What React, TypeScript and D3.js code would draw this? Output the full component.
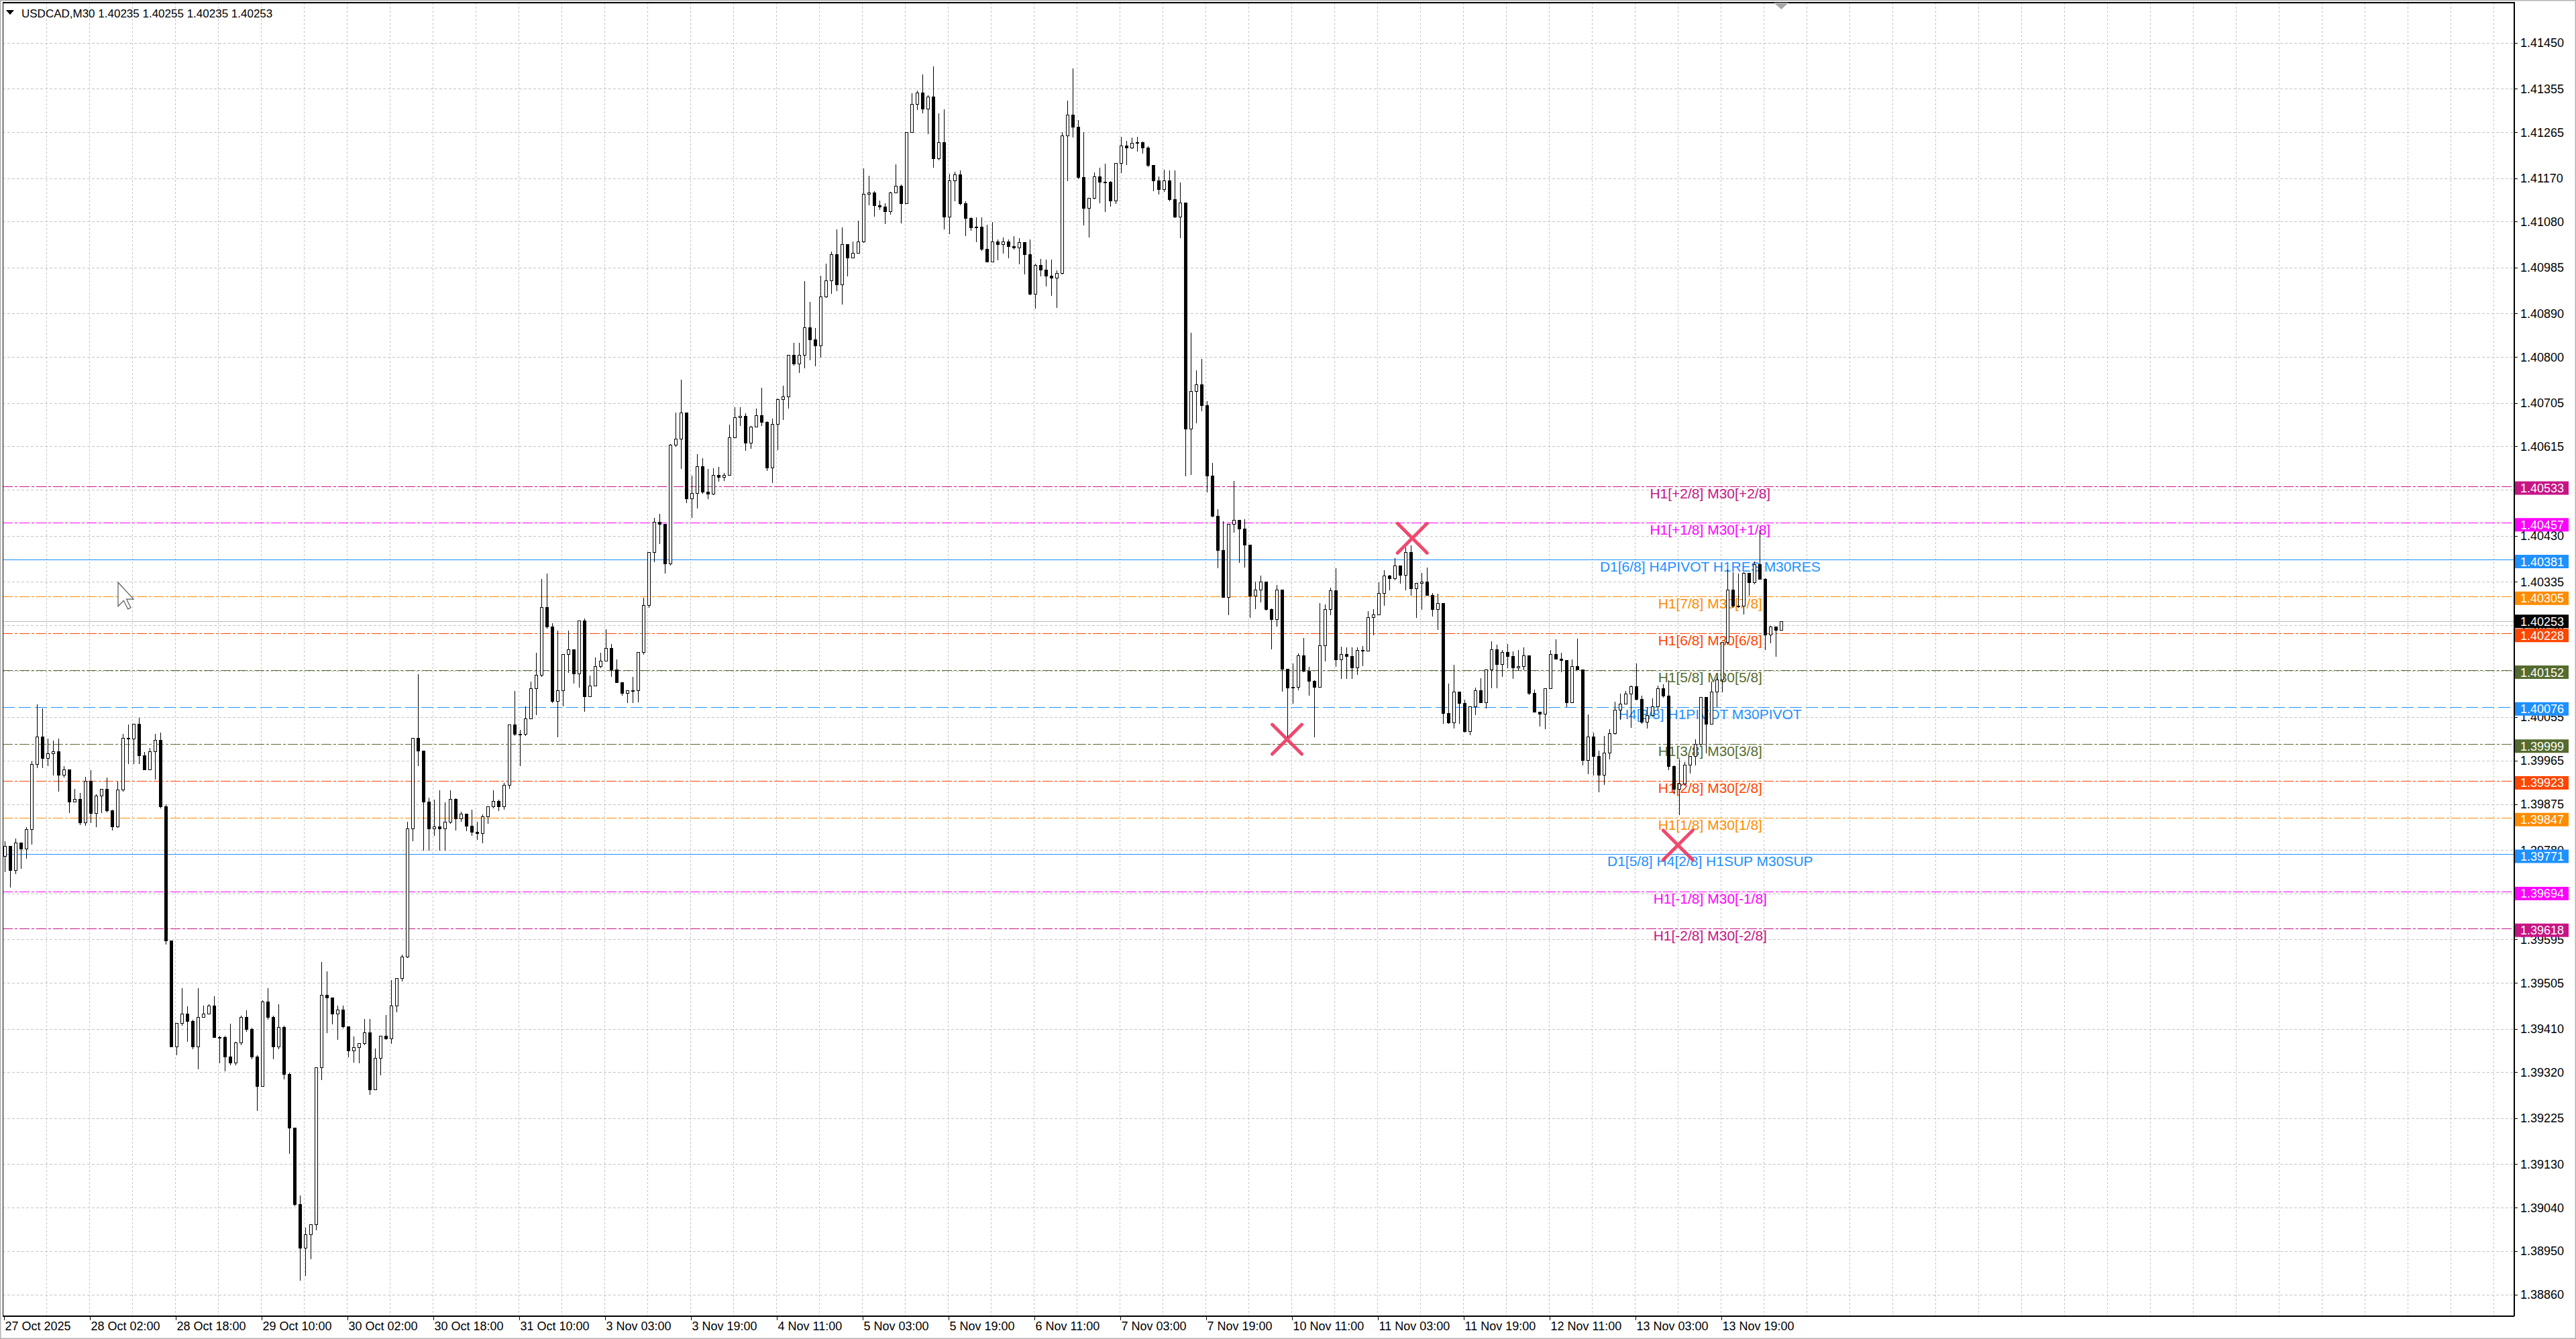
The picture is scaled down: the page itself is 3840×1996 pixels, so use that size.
import React from 'react';
import * as d3 from 'd3';

// USDCAD M30 screenshot, read back as hourly bars (open = previous close)
const firstOpen = 1.39768;

const highs = [
  1.39799, 1.39780, 1.39805, 1.39796, 1.39829, 1.39964, 1.40082, 1.40074, 1.40012, 1.40008,
  1.40012, 1.39955, 1.39943, 1.39908, 1.39900, 1.39933, 1.39946, 1.39897, 1.39908, 1.39931,
  1.39864, 1.39923, 1.40021, 1.40041, 1.40043, 1.40055, 1.39984, 1.39992, 1.40021, 1.40025,
  1.39876, 1.39593, 1.39422, 1.39495, 1.39458, 1.39430, 1.39495, 1.39460, 1.39462, 1.39479,
  1.39397, 1.39397, 1.39422, 1.39385, 1.39438, 1.39450, 1.39413, 1.39356, 1.39470, 1.39495,
  1.39438, 1.39462, 1.39418, 1.39320, 1.39206, 1.39067, 1.39000, 1.39005, 1.39330, 1.39550,
  1.39530, 1.39460, 1.39460, 1.39460, 1.39415, 1.39395, 1.39380, 1.39432, 1.39432, 1.39370,
  1.39395, 1.39440, 1.39512, 1.39515, 1.39565, 1.39840, 1.40012, 1.40145, 1.39985, 1.39890,
  1.39885, 1.39905, 1.39880, 1.39905, 1.39888, 1.39860, 1.39855, 1.39865, 1.39840, 1.39855,
  1.39872, 1.39905, 1.39885, 1.39920, 1.40040, 1.40110, 1.40030, 1.40078, 1.40130, 1.40190,
  1.40342, 1.40353, 1.40250, 1.40235, 1.40185, 1.40235, 1.40195, 1.40255, 1.40260, 1.40142,
  1.40180, 1.40190, 1.40238, 1.40208, 1.40176, 1.40129, 1.40112, 1.40140, 1.40189, 1.40304,
  1.40397, 1.40468, 1.40477, 1.40456, 1.40621, 1.40686, 1.40755, 1.40686, 1.40556, 1.40601,
  1.40592, 1.40570, 1.40571, 1.40574, 1.40562, 1.40662, 1.40697, 1.40698, 1.40685, 1.40658,
  1.40695, 1.40738, 1.40669, 1.40674, 1.40716, 1.40742, 1.40804, 1.40831, 1.40831, 1.40959,
  1.40915, 1.40862, 1.40970, 1.40994, 1.41019, 1.41065, 1.41070, 1.41007, 1.41040, 1.41083,
  1.41191, 1.41176, 1.41145, 1.41125, 1.41120, 1.41143, 1.41200, 1.41158, 1.41265, 1.41347,
  1.41353, 1.41386, 1.41343, 1.41403, 1.41305, 1.41314, 1.41180, 1.41185, 1.41188, 1.41124,
  1.41091, 1.41091, 1.41091, 1.41075, 1.41080, 1.41045, 1.41049, 1.41045, 1.41051, 1.41048,
  1.41039, 1.41045, 1.40995, 1.41004, 1.41003, 1.41003, 1.40981, 1.41266, 1.41332, 1.41399,
  1.41291, 1.41266, 1.41129, 1.41183, 1.41193, 1.41201, 1.41166, 1.41203, 1.41257, 1.41249,
  1.41255, 1.41257, 1.41247, 1.41237, 1.41199, 1.41175, 1.41189, 1.41188, 1.41188, 1.41162,
  1.41120, 1.40851, 1.40774, 1.40797, 1.40710, 1.40582, 1.40487, 1.40461, 1.40456, 1.40545,
  1.40465, 1.40466, 1.40412, 1.40336, 1.40349, 1.40336, 1.40281, 1.40329, 1.40318, 1.40151,
  1.40167, 1.40188, 1.40220, 1.40160, 1.40132, 1.40292, 1.40290, 1.40324, 1.40365, 1.40202,
  1.40200, 1.40200, 1.40200, 1.40204, 1.40276, 1.40280, 1.40335, 1.40360, 1.40350, 1.40385,
  1.40366, 1.40408, 1.40411, 1.40333, 1.40355, 1.40366, 1.40313, 1.40311, 1.40292, 1.40125,
  1.40165, 1.40107, 1.40093, 1.40077, 1.40118, 1.40137, 1.40153, 1.40213, 1.40206, 1.40195,
  1.40207, 1.40192, 1.40195, 1.40200, 1.40183, 1.40113, 1.40066, 1.40114, 1.40195, 1.40217,
  1.40189, 1.40173, 1.40176, 1.40219, 1.40155, 1.40062, 1.40025, 1.39987, 1.40018, 1.40031,
  1.40088, 1.40105, 1.40111, 1.40122, 1.40167, 1.40101, 1.40077, 1.40095, 1.40122, 1.40124,
  1.40133, 1.39956, 1.39969, 1.39963, 1.39975, 1.40010, 1.40096, 1.40083, 1.40130, 1.40140,
  1.40211, 1.40362, 1.40356, 1.40353, 1.40356, 1.40353, 1.40378, 1.40443, 1.40343, 1.40245,
  1.40243, 1.40255,
];

const lows = [
  1.39735, 1.39704, 1.39731, 1.39743, 1.39764, 1.39792, 1.39951, 1.39951, 1.39955, 1.39935,
  1.39902, 1.39931, 1.39858, 1.39882, 1.39833, 1.39832, 1.39837, 1.39829, 1.39858, 1.39859,
  1.39821, 1.39827, 1.39902, 1.39959, 1.39959, 1.39959, 1.39946, 1.39947, 1.39927, 1.39867,
  1.39585, 1.39373, 1.39356, 1.39418, 1.39385, 1.39369, 1.39328, 1.39434, 1.39442, 1.39393,
  1.39340, 1.39324, 1.39336, 1.39336, 1.39378, 1.39405, 1.39348, 1.39242, 1.39291, 1.39430,
  1.39348, 1.39369, 1.39307, 1.39153, 1.39044, 1.38890, 1.38900, 1.38935, 1.38995, 1.39305,
  1.39402, 1.39420, 1.39388, 1.39412, 1.39352, 1.39342, 1.39340, 1.39378, 1.39275, 1.39288,
  1.39315, 1.39388, 1.39380, 1.39445, 1.39510, 1.39558, 1.39800, 1.39955, 1.39780, 1.39780,
  1.39810, 1.39780, 1.39780, 1.39835, 1.39822, 1.39840, 1.39820, 1.39810, 1.39802, 1.39795,
  1.39835, 1.39868, 1.39862, 1.39865, 1.39908, 1.40018, 1.39955, 1.40018, 1.40052, 1.40060,
  1.40140, 1.40240, 1.40085, 1.40015, 1.40078, 1.40148, 1.40125, 1.40118, 1.40068, 1.40110,
  1.40122, 1.40158, 1.40187, 1.40140, 1.40127, 1.40100, 1.40086, 1.40086, 1.40087, 1.40185,
  1.40282, 1.40377, 1.40415, 1.40353, 1.40370, 1.40616, 1.40570, 1.40499, 1.40468, 1.40488,
  1.40518, 1.40508, 1.40515, 1.40543, 1.40545, 1.40556, 1.40633, 1.40658, 1.40607, 1.40612,
  1.40656, 1.40658, 1.40565, 1.40541, 1.40609, 1.40671, 1.40695, 1.40784, 1.40769, 1.40778,
  1.40795, 1.40782, 1.40800, 1.40924, 1.40932, 1.40937, 1.40910, 1.40968, 1.41005, 1.41019,
  1.41037, 1.41116, 1.41092, 1.41105, 1.41076, 1.41096, 1.41140, 1.41078, 1.41185, 1.41265,
  1.41313, 1.41305, 1.41262, 1.41193, 1.41209, 1.41066, 1.41055, 1.41124, 1.41116, 1.41052,
  1.41062, 1.41039, 1.41021, 1.40997, 1.40997, 1.41001, 1.41016, 1.41006, 1.41024, 1.40993,
  1.40972, 1.40929, 1.40901, 1.40968, 1.40947, 1.40928, 1.40903, 1.40972, 1.41166, 1.41255,
  1.41170, 1.41074, 1.41049, 1.41128, 1.41120, 1.41101, 1.41112, 1.41118, 1.41182, 1.41199,
  1.41232, 1.41226, 1.41222, 1.41195, 1.41145, 1.41137, 1.41143, 1.41124, 1.41089, 1.41047,
  1.40554, 1.40558, 1.40664, 1.40689, 1.40521, 1.40470, 1.40364, 1.40303, 1.40267, 1.40438,
  1.40375, 1.40366, 1.40262, 1.40280, 1.40293, 1.40277, 1.40197, 1.40244, 1.40109, 1.40014,
  1.40084, 1.40112, 1.40149, 1.40100, 1.40014, 1.40119, 1.40172, 1.40267, 1.40160, 1.40135,
  1.40135, 1.40135, 1.40144, 1.40162, 1.40201, 1.40225, 1.40267, 1.40287, 1.40318, 1.40340,
  1.40332, 1.40318, 1.40308, 1.40262, 1.40278, 1.40307, 1.40264, 1.40237, 1.40042, 1.40042,
  1.40033, 1.40042, 1.40024, 1.40019, 1.40061, 1.40085, 1.40074, 1.40116, 1.40116, 1.40139,
  1.40158, 1.40136, 1.40152, 1.40153, 1.40102, 1.40066, 1.40037, 1.40031, 1.40114, 1.40175,
  1.40149, 1.40077, 1.40085, 1.40153, 1.39956, 1.39938, 1.39935, 1.39901, 1.39916, 1.39969,
  1.40020, 1.40051, 1.40083, 1.40034, 1.40091, 1.40043, 1.40033, 1.40057, 1.40070, 1.40097,
  1.39947, 1.39896, 1.39854, 1.39915, 1.39940, 1.39956, 1.39997, 1.39981, 1.40080, 1.40077,
  1.40107, 1.40206, 1.40283, 1.40282, 1.40269, 1.40308, 1.40331, 1.40341, 1.40195, 1.40209,
  1.40181, 1.40235,
];

const closes = [
  1.39788, 1.39739, 1.39795, 1.39783, 1.39823, 1.39958, 1.40014, 1.39970, 1.39980, 1.39984,
  1.39935, 1.39946, 1.39880, 1.39886, 1.39837, 1.39923, 1.39856, 1.39892, 1.39907, 1.39862,
  1.39829, 1.39905, 1.40012, 1.40011, 1.40041, 1.39976, 1.39947, 1.39984, 1.40008, 1.39870,
  1.39593, 1.39373, 1.39422, 1.39442, 1.39426, 1.39373, 1.39434, 1.39442, 1.39458, 1.39393,
  1.39393, 1.39352, 1.39340, 1.39381, 1.39434, 1.39409, 1.39352, 1.39291, 1.39466, 1.39434,
  1.39373, 1.39413, 1.39316, 1.39206, 1.39047, 1.38957, 1.38985, 1.39005, 1.39330, 1.39480,
  1.39475, 1.39442, 1.39450, 1.39415, 1.39365, 1.39372, 1.39380, 1.39402, 1.39285, 1.39350,
  1.39395, 1.39390, 1.39458, 1.39515, 1.39560, 1.39825, 1.40012, 1.39985, 1.39880, 1.39825,
  1.39828, 1.39825, 1.39838, 1.39885, 1.39845, 1.39855, 1.39830, 1.39817, 1.39815, 1.39850,
  1.39870, 1.39882, 1.39870, 1.39915, 1.40040, 1.40020, 1.40020, 1.40052, 1.40115, 1.40142,
  1.40282, 1.40242, 1.40088, 1.40110, 1.40185, 1.40195, 1.40145, 1.40255, 1.40098, 1.40120,
  1.40160, 1.40172, 1.40198, 1.40154, 1.40127, 1.40105, 1.40111, 1.40111, 1.40189, 1.40286,
  1.40397, 1.40459, 1.40454, 1.40373, 1.40618, 1.40631, 1.40685, 1.40508, 1.40518, 1.40574,
  1.40521, 1.40517, 1.40556, 1.40552, 1.40556, 1.40633, 1.40676, 1.40678, 1.40623, 1.40656,
  1.40680, 1.40665, 1.40571, 1.40662, 1.40713, 1.40718, 1.40804, 1.40786, 1.40804, 1.40862,
  1.40837, 1.40824, 1.40925, 1.40959, 1.41012, 1.40950, 1.41034, 1.41005, 1.41016, 1.41039,
  1.41138, 1.41140, 1.41114, 1.41111, 1.41102, 1.41140, 1.41154, 1.41118, 1.41265, 1.41324,
  1.41347, 1.41314, 1.41339, 1.41211, 1.41245, 1.41091, 1.41166, 1.41178, 1.41118, 1.41088,
  1.41068, 1.41070, 1.41024, 1.40998, 1.41039, 1.41034, 1.41039, 1.41029, 1.41026, 1.41037,
  1.41012, 1.40931, 1.40991, 1.40980, 1.40968, 1.40964, 1.40974, 1.41259, 1.41301, 1.41276,
  1.41172, 1.41108, 1.41129, 1.41174, 1.41162, 1.41162, 1.41124, 1.41201, 1.41237, 1.41234,
  1.41243, 1.41245, 1.41234, 1.41197, 1.41165, 1.41147, 1.41165, 1.41126, 1.41091, 1.41120,
  1.40652, 1.40729, 1.40744, 1.40700, 1.40554, 1.40471, 1.40400, 1.40304, 1.40454, 1.40463,
  1.40445, 1.40412, 1.40306, 1.40318, 1.40335, 1.40278, 1.40257, 1.40318, 1.40155, 1.40116,
  1.40118, 1.40183, 1.40151, 1.40130, 1.40118, 1.40204, 1.40278, 1.40317, 1.40174, 1.40186,
  1.40181, 1.40158, 1.40193, 1.40192, 1.40262, 1.40267, 1.40311, 1.40348, 1.40342, 1.40368,
  1.40349, 1.40397, 1.40321, 1.40333, 1.40335, 1.40307, 1.40278, 1.40291, 1.40063, 1.40044,
  1.40107, 1.40084, 1.40026, 1.40077, 1.40111, 1.40086, 1.40153, 1.40195, 1.40164, 1.40189,
  1.40181, 1.40158, 1.40161, 1.40183, 1.40105, 1.40066, 1.40062, 1.40114, 1.40186, 1.40175,
  1.40173, 1.40085, 1.40161, 1.40153, 1.39966, 1.40015, 1.39975, 1.39935, 1.39981, 1.40021,
  1.40070, 1.40083, 1.40103, 1.40119, 1.40093, 1.40045, 1.40059, 1.40077, 1.40114, 1.40099,
  1.39953, 1.39907, 1.39917, 1.39956, 1.39975, 1.39999, 1.40096, 1.40041, 1.40108, 1.40133,
  1.40211, 1.40319, 1.40285, 1.40285, 1.40353, 1.40334, 1.40372, 1.40341, 1.40226, 1.40242,
  1.40235, 1.40253,
];

const priceTicks = [
  '1.41450', '1.41355', '1.41265', '1.41170', '1.41080', '1.40985', '1.40890', '1.40800',
  '1.40705', '1.40615', '1.40525', '1.40430', '1.40335', '1.40245', '1.40150', '1.40055',
  '1.39965', '1.39875', '1.39780', '1.39690', '1.39595', '1.39505', '1.39410', '1.39320',
  '1.39225', '1.39130', '1.39040', '1.38950', '1.38860',
];

// one label every 16 hourly bars
const timeLabels = [
  '27 Oct 2025', '28 Oct 02:00', '28 Oct 18:00', '29 Oct 10:00', '30 Oct 02:00', '30 Oct 18:00',
  '31 Oct 10:00', '3 Nov 03:00', '3 Nov 19:00', '4 Nov 11:00', '5 Nov 03:00', '5 Nov 19:00',
  '6 Nov 11:00', '7 Nov 03:00', '7 Nov 19:00', '10 Nov 11:00', '11 Nov 03:00', '11 Nov 19:00',
  '12 Nov 11:00', '13 Nov 03:00', '13 Nov 19:00',
];

const levelPrices = [
  1.40533, 1.40457, 1.40381, 1.40305, 1.40228, 1.40152, 1.40076,
  1.39999, 1.39923, 1.39847, 1.39771, 1.39694, 1.39618,
];
const levelNames = [
  'H1[+2/8] M30[+2/8]', 'H1[+1/8] M30[+1/8]', 'D1[6/8] H4PIVOT H1RES M30RES',
  'H1[7/8] M30[7/8]', 'H1[6/8] M30[6/8]', 'H1[5/8] M30[5/8]', 'H4[3/8] H1PIVOT M30PIVOT',
  'H1[3/8] M30[3/8]', 'H1[2/8] M30[2/8]', 'H1[1/8] M30[1/8]', 'D1[5/8] H4[2/8] H1SUP M30SUP',
  'H1[-1/8] M30[-1/8]', 'H1[-2/8] M30[-2/8]',
];
const labelBar = 317.75;

const bidPrice = 1.40253;
const header = 'USDCAD,M30  1.40235 1.40255 1.40235 1.40253';

// cross markers (bar index, price)
const crossBars = [262.25, 238.9, 311.75];
const crossPrices = [1.40425, 1.40009, 1.3979];

// styles
const levelColors = [
  '#C71585', '#FF00FF', '#1E90FF', '#FF8C00', '#FF4500', '#556B2F', '#1E90FF',
  '#556B2F', '#FF4500', '#FF8C00', '#1E90FF', '#FF00FF', '#C71585',
];
const DASHDOT = '15,3,4,3';
const levelDash = [
  DASHDOT, DASHDOT, 'none', DASHDOT, DASHDOT, DASHDOT, '18,6',
  DASHDOT, DASHDOT, DASHDOT, 'none', DASHDOT, DASHDOT,
];
const levelWidth = [1.3, 1.3, 1.2, 1.3, 1.3, 1.3, 1.6, 1.3, 1.3, 1.3, 1.2, 1.3, 1.3];

const W = 3840;
const H = 1996;
const left = 4;
const right = 3747;
const top = 4;
const bottom = 1961;
const font = "'Liberation Sans', Arial, sans-serif";
const gridColor = '#C4C4C4';

const App: React.FC = () => {
  const x = d3.scaleLinear().domain([0, 1]).range([7.3, 15.3]);
  const y = d3.scaleLinear().domain([1.3886, 1.4145]).range([1929.8, 63.9]);
  const py = (p: number) => Math.round(y(p)) + 0.5;

  const bars = closes.map((c, i) => {
    const o = i === 0 ? firstOpen : closes[i - 1];
    return { i, o, c, h: Math.max(highs[i], o, c), l: Math.min(lows[i], o, c) };
  });

  const vGrid: number[] = [];
  for (let k = 1; x(8 * k) - 2 < right; k++) vGrid.push(Math.round(x(8 * k) - 2) + 0.5);

  return (
    <>
      <style>{'body{margin:0}'}</style>
      <svg width={W} height={H} viewBox={`0 0 ${W} ${H}`} style={{ display: 'block' }} fontFamily={font}>
        <defs>
          <clipPath id="plot">
            <rect x={left} y={top} width={right - left} height={bottom - top} />
          </clipPath>
        </defs>
        <rect width={W} height={H} fill="#ffffff" />
        <rect x={0.5} y={0.5} width={W - 1} height={H - 1} fill="none" stroke="#B4B4B4" strokeWidth={2} />

        <g clipPath="url(#plot)" shapeRendering="crispEdges">
          {/* grid */}
          {vGrid.map((gx) => (
            <line key={'vg' + gx} x1={gx} x2={gx} y1={top} y2={bottom} stroke={gridColor} strokeDasharray="3,3" />
          ))}
          {priceTicks.map((t) => (
            <line key={'hg' + t} x1={left} x2={right} y1={py(+t)} y2={py(+t)} stroke={gridColor} strokeDasharray="4,3" />
          ))}

          {/* level lines */}
          {levelPrices.map((p, k) => (
            <line
              key={'lv' + k}
              x1={left}
              x2={right}
              y1={py(p)}
              y2={py(p)}
              stroke={levelColors[k]}
              strokeWidth={levelWidth[k]}
              strokeDasharray={levelDash[k]}
            />
          ))}
          <line x1={left} x2={right} y1={py(bidPrice)} y2={py(bidPrice)} stroke="#B8B8B8" strokeWidth={1.2} />
        </g>

        {/* level captions */}
        <g clipPath="url(#plot)">
          {levelNames.map((n, k) => (
            <text key={'ln' + k} x={x(labelBar)} y={y(levelPrices[k]) + 18} fontSize={21} textAnchor="middle" fill={levelColors[k]}>
              {n}
            </text>
          ))}

          {/* crosses */}
          {crossBars.map((b, k) => {
            const cx = x(b);
            const cy = y(crossPrices[k]);
            const r = 22;
            return (
              <g key={'x' + k} stroke="#EE3A63" strokeWidth={5} strokeLinecap="round" opacity={0.92}>
                <line x1={cx - r} y1={cy - r} x2={cx + r} y2={cy + r} />
                <line x1={cx - r} y1={cy + r} x2={cx + r} y2={cy - r} />
              </g>
            );
          })}

          {/* candles */}
          <g shapeRendering="crispEdges">
            {bars.map((d) => {
              const cx = Math.round(x(d.i)) + 0.5;
              const yTop = py(Math.max(d.o, d.c));
              const yBot = py(Math.min(d.o, d.c));
              const up = d.c >= d.o;
              return (
                <g key={'c' + d.i}>
                  <line x1={cx} x2={cx} y1={py(d.h)} y2={py(d.l)} stroke="#000" />
                  <rect
                    x={cx - 2}
                    y={yTop}
                    width={4}
                    height={Math.max(1, yBot - yTop)}
                    fill={up ? '#ffffff' : '#000000'}
                    stroke="#000"
                  />
                </g>
              );
            })}
          </g>

          {/* mouse pointer left on the chart */}
          <polygon
            points={[[0, 0], [0, 17], [4, 13], [7, 19], [9, 18], [6, 12], [11, 12]]
              .map(([a, b]) => `${176 + a * 2.1},${868 + b * 2.1}`)
              .join(' ')}
            fill="#ffffff"
            stroke="#555"
            strokeWidth={1.2}
          />
        </g>

        {/* chart frame */}
        <g shapeRendering="crispEdges" stroke="#000">
          <line x1={left + 0.5} x2={left + 0.5} y1={top} y2={bottom} />
          <line x1={left} x2={right} y1={top - 0.5} y2={top - 0.5} strokeWidth={2} />
          <line x1={right + 0.5} x2={right + 0.5} y1={top - 1} y2={bottom + 1} strokeWidth={2} />
          <line x1={left} x2={right + 1} y1={bottom + 0.5} y2={bottom + 0.5} strokeWidth={2} />
        </g>
        <polygon points={`${x(331) - 11},${top} ${x(331) + 11},${top} ${x(331)},${top + 10}`} fill="#A8A8A8" />

        {/* header */}
        <polygon points="9,15 21,15 15,22" fill="#000" />
        <text x={32} y={26} fontSize={17} fill="#000">
          {header}
        </text>

        {/* time axis */}
        {timeLabels.map((t, k) => {
          const tx = Math.round(x(16 * k) - 1.5) + 0.5;
          return (
            <g key={'t' + k}>
              <line x1={tx} x2={tx} y1={bottom} y2={bottom + 7} stroke="#000" shapeRendering="crispEdges" />
              <text x={tx + 1} y={1983} fontSize={18} fill="#000">
                {t}
              </text>
            </g>
          );
        })}

        {/* price axis */}
        {priceTicks.map((t) => (
          <g key={'p' + t}>
            <line x1={right} x2={right + 6} y1={py(+t)} y2={py(+t)} stroke="#000" shapeRendering="crispEdges" />
            <text x={3757} y={y(+t) + 6.5} fontSize={18} fill="#000">
              {t}
            </text>
          </g>
        ))}
        {levelPrices.map((p, k) => (
          <g key={'pb' + k}>
            <rect x={3749} y={y(p) + 3 - 10} width={80} height={20} fill={levelColors[k]} />
            <text x={3757} y={y(p) + 3 + 6.5} fontSize={18} fill="#ffffff">
              {p.toFixed(5)}
            </text>
          </g>
        ))}
        <rect x={3749} y={y(bidPrice) - 10} width={80} height={20} fill="#000" />
        <text x={3757} y={y(bidPrice) + 6.5} fontSize={18} fill="#ffffff">
          {bidPrice.toFixed(5)}
        </text>
      </svg>
    </>
  );
};

export default App;
